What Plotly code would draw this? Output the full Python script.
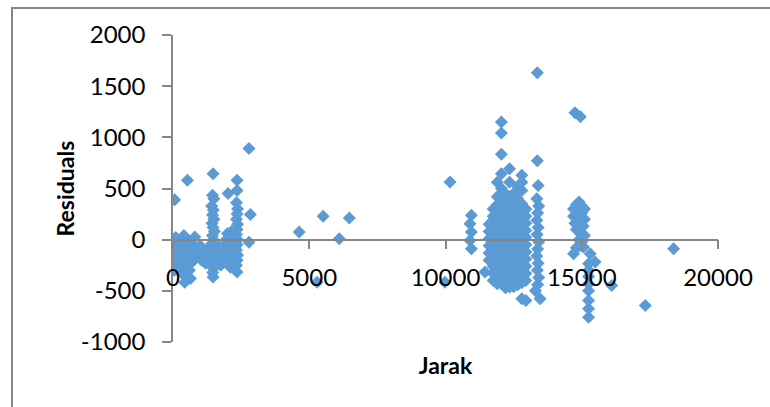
import plotly.graph_objects as go

# ---- data (Jarak vs Residuals) ----
# cluster near origin (0 - 1300)
jarak_a = [60, 530, 20, 40, 30, 60, 30, 80, 50, 100, 120, 100,
           300, 280, 320, 300, 340,
           430, 450, 420, 460, 440, 430, 450, 400,
           600, 620, 580, 650, 600, 640,
           800, 780, 820, 760,
           900, 1000, 1050, 1100, 1150, 1200, 1250, 1000]
resid_a = [390, 580, 0, -60, -120, -170, -220, -260, -300, -80, -140, 20,
           -30, -100, -180, -250, -330,
           -415, -350, -280, -200, -130, -60, 20, 40,
           -20, -100, -170, -230, -300, -380,
           25, -60, -140, -200,
           -100, -150, -200, -120, -180, -230, -100, -60]

# column around 1470
jarak_b = [1470, 1450, 1500, 1420, 1480, 1450, 1500, 1430, 1470, 1520, 1450, 1480,
           1420, 1500, 1450, 1480, 1520, 1440, 1480, 1460, 1470, 1350, 1300, 1600,
           1650, 1700, 1600]
resid_b = [645, 433, 400, 330, 290, 240, 200, 160, 120, 80, 40, 0,
           -40, -80, -120, -160, -200, -240, -280, -320, -366, -180, -220, -100,
           -150, -200, -40]

# bridge 1700 - 2300 and column around 2350, outliers near 2800
jarak_c = [1750, 1800, 1850, 1900, 1950, 2000, 2020, 2050, 2100, 2150, 2150, 2200,
           2100, 1950, 2000,
           2350, 2350, 2330, 2370, 2350, 2330, 2370, 2350, 2330, 2370, 2350, 2330,
           2370, 2350, 2330, 2350, 2250, 2200,
           2790, 2840, 2790]
resid_c = [-250, -180, -120, -60, 0, 60, 450, -40, 20, 80, -150, -220,
           -270, -200, -120,
           580, 480, 360, 300, 250, 200, 150, 100, 50, 0, -50, -100,
           -150, -200, -250, -317, -80, 30,
           890, 245, -25]

# scattered points 4000 - 7000
jarak_d = [4630, 5510, 6470, 6100, 5290]
resid_d = [75, 228, 212, 10, -415]

# points 10000 - 11500
jarak_e = [10165, 9980, 10950, 10900, 10950, 10900, 10950, 11450]
resid_e = [563, -415, 238, 156, 74, -7, -88, -317]

# dense block 11600 - 13000
jarak_f = ([11600] * 6 + [11750] * 11 + [11900] * 14 + [12050] * 18 + [12200] * 14 +
           [12350] * 15 + [12500] * 14 + [12650] * 14 + [12800] * 16 + [12950] * 12)
resid_f = ([150, 80, 10, -60, -130, -200] +
           [300, 230, 160, 90, 20, -50, -120, -190, -260, -330, -400] +
           [560, 420, 340, 270, 200, 130, 60, -10, -80, -150, -220, -290, -360, -430] +
           [1150, 1043, 834, 645, 500, 380, 310, 240, 170, 100, 30, -40, -110, -180,
            -250, -320, -390, -430] +
           [450, 360, 290, 220, 150, 80, 10, -60, -130, -200, -270, -340, -410, -470] +
           [694, 560, 420, 340, 270, 200, 130, 60, -10, -80, -150, -220, -290, -360, -463] +
           [450, 380, 310, 240, 170, 100, 30, -40, -110, -180, -250, -320, -390, -460] +
           [520, 400, 330, 260, 190, 120, 50, -20, -90, -160, -230, -300, -370, -440] +
           [629, 560, 480, 350, 280, 210, 140, 70, 0, -70, -140, -210, -280, -350, -420, -577] +
           [300, 230, 160, 90, 20, -50, -120, -190, -260, -330, -400, -594])

# column around 13400
jarak_g = [13370, 13370, 13400, 13350, 13420, 13380, 13350, 13400, 13360, 13420,
           13380, 13350, 13400, 13370, 13420, 13380, 13470, 13300]
resid_g = [1630, 770, 530, 400, 330, 260, 190, 120, 50, -20,
           -90, -160, -230, -300, -370, -440, -577, -500]

# cluster around 15000 and far outliers
jarak_h = [14750, 14950, 14700, 14800, 14900, 15000, 15100, 14700, 14850, 15000, 15100,
           14750, 14900, 15050, 14800, 14950, 15100, 14900, 15000,
           14700, 14800, 14950, 15060, 15310, 15490,
           15250, 15250, 15250, 15250, 15250, 15250, 15250, 15250,
           16100, 17330, 18370]
resid_h = [1240, 1200, 300, 340, 368, 330, 300, 230, 250, 260, 200,
           160, 180, 130, 100, 60, 40, 0, -20,
           -137, -80, -60, -72, -137, -219,
           -235, -300, -360, -430, -500, -594, -675, -757,
           -447, -643, -88]

x_ticks = [0, 5000, 10000, 15000, 20000]
y_ticks = [-1000, -500, 0, 500, 1000, 1500, 2000]

jarak = jarak_a + jarak_b + jarak_c + jarak_d + jarak_e + jarak_f + jarak_g + jarak_h
resid = resid_a + resid_b + resid_c + resid_d + resid_e + resid_f + resid_g + resid_h

AXIS = "#868686"
FONT = "Lato, Carlito, 'Liberation Sans', sans-serif"

fig = go.Figure(go.Scatter(
    x=jarak, y=resid, mode="markers",
    marker=dict(symbol="diamond", size=10, color="#5B9BD5", line=dict(width=0)),
    showlegend=False, hoverinfo="x+y"))

L, R, T, B = 173, 52, 35, 65
W, H = 770, 407
pw, ph = W - L - R, H - T - B

fig.update_layout(
    width=W, height=H, autosize=False,
    margin=dict(l=L, r=R, t=T, b=B, pad=0),
    paper_bgcolor="white", plot_bgcolor="white",
    font=dict(family=FONT, size=24, color="#000000"),
    xaxis=dict(
        range=[0, 20000], tickvals=x_ticks, ticktext=[str(v) for v in x_ticks],
        showgrid=False, zeroline=False, showline=True, linecolor=AXIS, linewidth=1.5,
        ticks="outside", ticklen=9, tickwidth=1.5, tickcolor=AXIS,
        anchor="free", position=1/3, ticklabelstandoff=8,
        tickfont=dict(family=FONT, size=24, color="#000000"),
        title=dict(text="<b>Jarak</b>", font=dict(family=FONT, size=23, color="#000000"),
                   standoff=67),
        fixedrange=True),
    yaxis=dict(
        range=[-1000, 2000], tickvals=y_ticks, ticktext=[str(v) for v in y_ticks],
        domain=[0, 1],
        showgrid=False, zeroline=False, showline=True, linecolor=AXIS, linewidth=1.5,
        ticks="outside", ticklen=9, tickwidth=1.5, tickcolor=AXIS,
        ticklabelstandoff=12,
        tickfont=dict(family=FONT, size=24, color="#000000"),
        fixedrange=True),
    annotations=[dict(text="<b>Residuals</b>", xref="paper", yref="paper",
                      x=(64 - L) / pw, y=0.5, xanchor="center", yanchor="middle",
                      textangle=-90, showarrow=False,
                      font=dict(family=FONT, size=23, color="#000000"))],
    shapes=[dict(type="rect", xref="paper", yref="paper",
                 x0=(12 - L) / pw, x1=1.3, y0=-0.6, y1=(H - B - 8) / ph,
                 line=dict(color=AXIS, width=2), fillcolor="rgba(0,0,0,0)", layer="below")],
)

fig.write_html("out.html")
